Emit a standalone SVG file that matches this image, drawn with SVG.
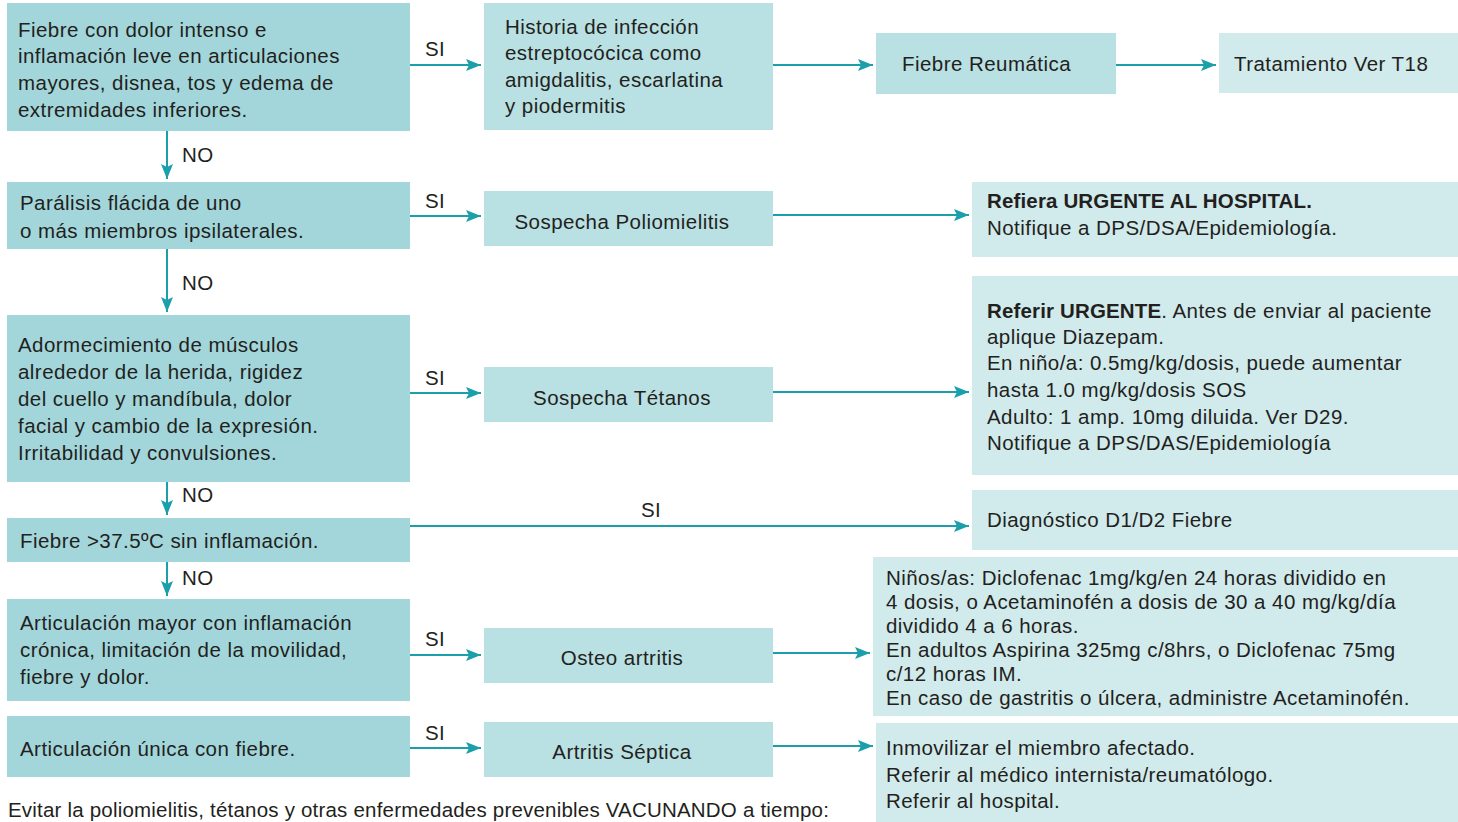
<svg xmlns="http://www.w3.org/2000/svg" width="1458" height="822" viewBox="0 0 1458 822">
<style>
.q{fill:#a2d6da}
.m{fill:#b9e0e2}
.r{fill:#d1eaeb}
text{font-family:"Liberation Sans",Arial,sans-serif;font-size:20.5px;letter-spacing:0.45px;fill:#231f20}
.c{text-anchor:middle}
.b{font-weight:bold;letter-spacing:0.15px}
.f{letter-spacing:0.2px}
.e{stroke:#1a9fab;stroke-width:2;fill:none;marker-end:url(#ah)}
</style>
<defs>
<marker id="ah" markerUnits="userSpaceOnUse" markerWidth="16" markerHeight="12" refX="15" refY="6" orient="auto">
<path d="M0,0 L15,6 L0,12 L3,6 Z" fill="#1a9fab"/>
</marker>
</defs>
<rect width="1458" height="822" fill="#fff"/>
<g id="connectors">
<line class="e" x1="410" y1="65" x2="481" y2="65"/>
<line class="e" x1="773" y1="65" x2="873" y2="65"/>
<line class="e" x1="1116" y1="65" x2="1216" y2="65"/>
<line class="e" x1="167" y1="131" x2="167" y2="179"/>
<line class="e" x1="167" y1="249" x2="167" y2="312"/>
<line class="e" x1="167" y1="482" x2="167" y2="515"/>
<line class="e" x1="167" y1="562" x2="167" y2="596"/>
<line class="e" x1="410" y1="216" x2="481" y2="216"/>
<line class="e" x1="773" y1="215" x2="969" y2="215"/>
<line class="e" x1="410" y1="393" x2="481" y2="393"/>
<line class="e" x1="773" y1="392" x2="969" y2="392"/>
<line class="e" x1="410" y1="526" x2="969" y2="526"/>
<line class="e" x1="410" y1="655" x2="481" y2="655"/>
<line class="e" x1="773" y1="653" x2="870" y2="653"/>
<line class="e" x1="410" y1="748" x2="481" y2="748"/>
<line class="e" x1="773" y1="746" x2="873" y2="746"/>
<text x="425" y="56">SI</text>
<text x="425" y="208">SI</text>
<text x="425" y="385">SI</text>
<text x="641" y="517">SI</text>
<text x="425" y="646">SI</text>
<text x="425" y="740">SI</text>
<text x="182" y="162">NO</text>
<text x="182" y="290">NO</text>
<text x="182" y="502">NO</text>
<text x="182" y="585">NO</text>
</g>
<g id="n1">
<rect class="q" x="7" y="3" width="403" height="128"/>
<text x="18" y="37">Fiebre con dolor intenso e</text>
<text x="18" y="63">inflamación leve en articulaciones</text>
<text x="18" y="90">mayores, disnea, tos y edema de</text>
<text x="18" y="117">extremidades inferiores.</text>
</g>
<g id="m1">
<rect class="m" x="484" y="3" width="289" height="127"/>
<text x="505" y="34">Historia de infección</text>
<text x="505" y="60">estreptocócica como</text>
<text x="505" y="87">amigdalitis, escarlatina</text>
<text x="505" y="113">y piodermitis</text>
</g>
<g id="fr">
<rect class="m" x="876" y="33" width="240" height="61"/>
<text x="902" y="71">Fiebre Reumática</text>
</g>
<g id="t18">
<rect class="r" x="1219" y="33" width="239" height="60"/>
<text x="1234" y="71">Tratamiento Ver T18</text>
</g>
<g id="n2">
<rect class="q" x="7" y="182" width="403" height="67"/>
<text x="20" y="210">Parálisis flácida de uno</text>
<text x="20" y="238">o más miembros ipsilaterales.</text>
</g>
<g id="m2">
<rect class="m" x="484" y="191" width="289" height="55"/>
<text class="c" x="622" y="229">Sospecha Poliomielitis</text>
</g>
<g id="r2">
<rect class="r" x="972" y="182" width="486" height="75"/>
<text x="987" y="208" class="b">Refiera URGENTE AL HOSPITAL.</text>
<text x="987" y="235">Notifique a DPS/DSA/Epidemiología.</text>
</g>
<g id="n3">
<rect class="q" x="7" y="315" width="403" height="167"/>
<text x="18" y="352">Adormecimiento de músculos</text>
<text x="18" y="379">alrededor de la herida, rigidez</text>
<text x="18" y="406">del cuello y mandíbula, dolor</text>
<text x="18" y="433">facial y cambio de la expresión.</text>
<text x="18" y="460">Irritabilidad y convulsiones.</text>
</g>
<g id="m3">
<rect class="m" x="484" y="367" width="289" height="55"/>
<text class="c" x="622" y="405">Sospecha Tétanos</text>
</g>
<g id="r3">
<rect class="r" x="972" y="276" width="486" height="199"/>
<text x="987" y="318"><tspan class="b">Referir URGENTE</tspan>. Antes de enviar al paciente</text>
<text x="987" y="344">aplique Diazepam.</text>
<text x="987" y="370">En niño/a: 0.5mg/kg/dosis, puede aumentar</text>
<text x="987" y="397">hasta 1.0 mg/kg/dosis SOS</text>
<text x="987" y="424">Adulto: 1 amp. 10mg diluida. Ver D29.</text>
<text x="987" y="450">Notifique a DPS/DAS/Epidemiología</text>
</g>
<g id="n4">
<rect class="q" x="7" y="518" width="403" height="44"/>
<text x="20" y="548">Fiebre &gt;37.5ºC sin inflamación.</text>
</g>
<g id="r4">
<rect class="r" x="972" y="490" width="486" height="60"/>
<text x="987" y="527">Diagnóstico D1/D2 Fiebre</text>
</g>
<g id="n5">
<rect class="q" x="7" y="599" width="403" height="102"/>
<text x="20" y="630">Articulación mayor con inflamación</text>
<text x="20" y="657">crónica, limitación de la movilidad,</text>
<text x="20" y="684">fiebre y dolor.</text>
</g>
<g id="m5">
<rect class="m" x="484" y="628" width="289" height="55"/>
<text class="c" x="622" y="665">Osteo artritis</text>
</g>
<g id="r5">
<rect class="r" x="873" y="557" width="585" height="159"/>
<text x="886" y="585">Niños/as: Diclofenac 1mg/kg/en 24 horas dividido en</text>
<text x="886" y="609">4 dosis, o Acetaminofén a dosis de 30 a 40 mg/kg/día</text>
<text x="886" y="633">dividido 4 a 6 horas.</text>
<text x="886" y="657">En adultos Aspirina 325mg c/8hrs, o Diclofenac 75mg</text>
<text x="886" y="681">c/12 horas IM.</text>
<text x="886" y="705">En caso de gastritis o úlcera, administre Acetaminofén.</text>
</g>
<g id="n6">
<rect class="q" x="7" y="716" width="403" height="61"/>
<text x="20" y="756">Articulación única con fiebre.</text>
</g>
<g id="m6">
<rect class="m" x="484" y="722" width="289" height="55"/>
<text class="c" x="622" y="759">Artritis Séptica</text>
</g>
<g id="r6">
<rect class="r" x="876" y="723" width="582" height="99"/>
<text x="886" y="755">Inmovilizar el miembro afectado.</text>
<text x="886" y="782">Referir al médico internista/reumatólogo.</text>
<text x="886" y="808">Referir al hospital.</text>
</g>
<text class="f" x="8" y="817">Evitar la poliomielitis, tétanos y otras enfermedades prevenibles VACUNANDO a tiempo:</text>
</svg>
